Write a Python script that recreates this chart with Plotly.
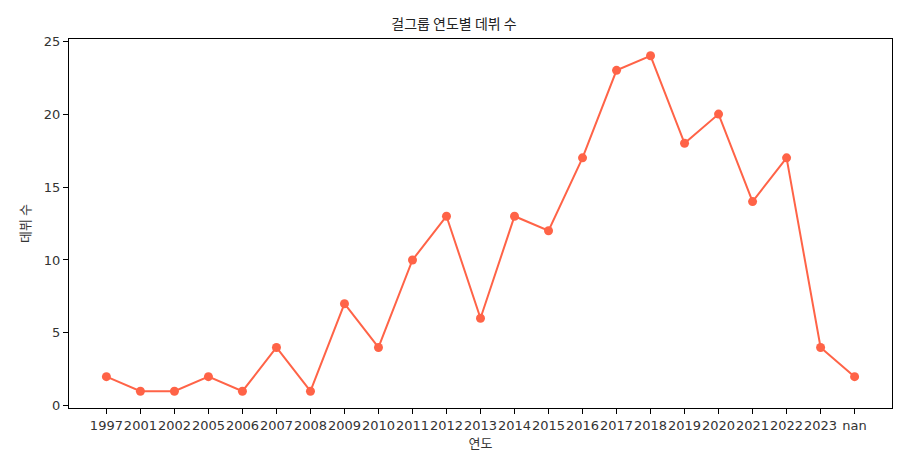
import plotly.graph_objects as go

years = ["1997", "2001", "2002", "2005", "2006", "2007", "2008", "2009", "2010", "2011",
         "2012", "2013", "2014", "2015", "2016", "2017", "2018", "2019", "2020", "2021",
         "2022", "2023", "nan"]
counts = [2, 1, 1, 2, 1, 4, 1, 7, 4, 10, 13, 6, 13, 12, 17, 23, 24, 18, 20, 14, 17, 4, 2]

font_family = "DejaVu Sans, Noto Sans CJK KR, sans-serif"

fig = go.Figure(go.Scatter(
    x=list(range(len(years))), y=counts, mode="lines+markers",
    line=dict(color="#FF6347", width=2),
    marker=dict(color="#FF6347", size=9),
))

fig.update_layout(
    width=908, height=459,
    margin=dict(l=69, r=16, t=39, b=51),
    paper_bgcolor="white", plot_bgcolor="white",
    font=dict(family=font_family, size=13, color="#333333"),
    showlegend=False,
    title=dict(text="걸그룹 연도별 데뷔 수", x=0.5, xanchor="center", y=0.948, yanchor="middle",
               font=dict(size=14, color="#222222", family="Noto Sans CJK KR, sans-serif")),
)
fig.update_xaxes(
    range=[-1.1, 23.1], tickmode="array", tickvals=list(range(len(years))), ticktext=years,
    showline=True, mirror=True, linecolor="black", linewidth=1, automargin=False,
    ticks="outside", ticklen=5, tickcolor="black", showgrid=False, zeroline=False,
    title=dict(text="연도", standoff=0, font=dict(size=13, family="Noto Sans CJK KR, sans-serif")),
    tickangle=0,
)
fig.update_yaxes(
    range=[-0.15, 25.15], tickmode="array", tickvals=[0, 5, 10, 15, 20, 25],
    showline=True, mirror=True, linecolor="black", linewidth=1, automargin=False,
    ticks="outside", ticklen=5, tickcolor="black", showgrid=False, zeroline=False,
    title=dict(text="데뷔 수", standoff=10, font=dict(size=13, family="Noto Sans CJK KR, sans-serif")),
)

fig.write_html("out.html", config={"displayModeBar": False},
               post_script="document.body.style.margin='0';document.body.style.padding='0';")
